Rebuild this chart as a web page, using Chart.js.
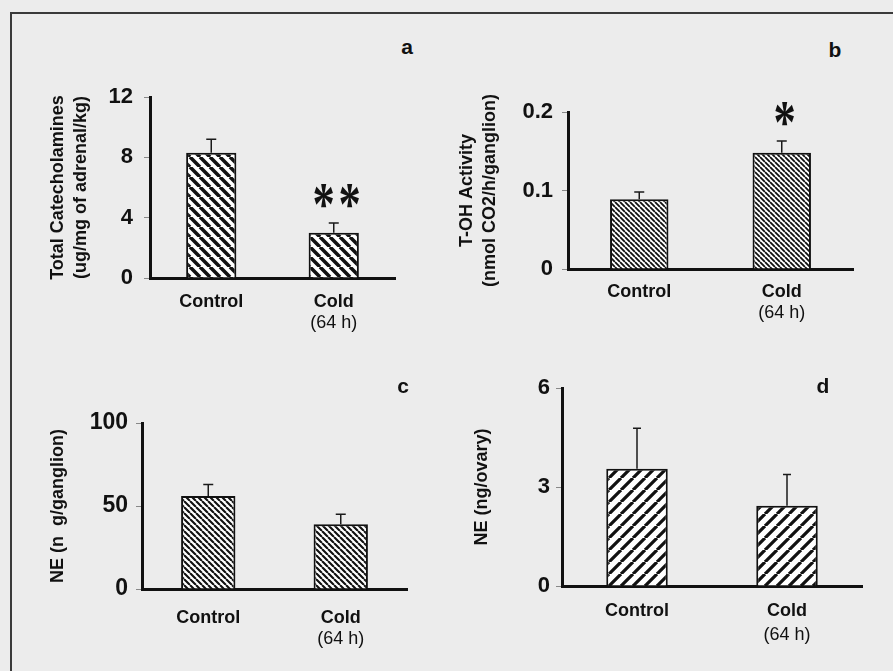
<!DOCTYPE html>
<html>
<head>
<meta charset="utf-8">
<script src="https://cdn.jsdelivr.net/npm/chart.js@4.4.1/dist/chart.umd.min.js"></script>
<style>
  html, body { margin: 0; padding: 0; background: #ececec; }
  body { width: 893px; height: 671px; position: relative; overflow: hidden; font-family: "Liberation Sans", Arial, sans-serif; }
  #frame { position: absolute; left: 10px; top: 12px; width: 900px; height: 700px; border-top: 2px solid #3a3a3a; border-left: 2px solid #3a3a3a; }
  canvas { position: absolute; }
  .letter { position: absolute; font: bold 21px "Liberation Sans", Arial, sans-serif; color: #111; transform: translate(-50%, -50%); }
</style>
</head>
<body>
<div id="frame"></div>
<canvas id="chartA"></canvas>
<canvas id="chartB"></canvas>
<canvas id="chartC"></canvas>
<canvas id="chartD"></canvas>
<div class="letter" style="left:407px;top:47px">a</div>
<div class="letter" style="left:835px;top:50px">b</div>
<div class="letter" style="left:403px;top:386px">c</div>
<div class="letter" style="left:823px;top:386px">d</div>
<script>
// groups on the x axis
const groups = ["Control", "Cold"];
const groupNotes = ["", "(64 h)"];

// a: adrenal catecholamines
const catecholamines = [8.3, 3.0];
const catecholaminesErr = [0.9, 0.65];
const catecholaminesStars = ["", "**"];
const catecholaminesTicks = [0, 4, 8, 12];

// b: tyrosine hydroxylase activity
const tohActivity = [0.089, 0.148];
const tohActivityErr = [0.009, 0.015];
const tohActivityStars = ["", "*"];
const tohActivityTicks = [0, 0.1, 0.2];

// c: NE in ganglion
const neGanglion = [56, 39];
const neGanglionErr = [7, 6];
const neGanglionTicks = [0, 50, 100];

// d: NE in ovary
const neOvary = [3.55, 2.43];
const neOvaryErr = [1.23, 0.95];
const neOvaryTicks = [0, 3, 6];

const FONT = '"Liberation Sans", Arial, sans-serif';

function hatch(ctx, size, width, dir) {
  const c = document.createElement("canvas");
  c.width = size;
  c.height = size;
  const g = c.getContext("2d");
  g.fillStyle = "#fff";
  g.fillRect(0, 0, size, size);
  g.strokeStyle = "#111";
  g.lineWidth = width;
  g.beginPath();
  for (let k = -1; k <= 1; k++) {
    if (dir === "\\") {
      g.moveTo(k * size, 0);
      g.lineTo(k * size + size, size);
    } else {
      g.moveTo(k * size, size);
      g.lineTo(k * size + size, 0);
    }
  }
  g.stroke();
  return ctx.createPattern(c, "repeat");
}

// error bars, significance stars and the two-line group labels
const extras = {
  id: "extras",
  afterDatasetsDraw(chart, args, opts) {
    const ctx = chart.ctx;
    const yScale = chart.scales.y;
    const xScale = chart.scales.x;
    const ds = chart.data.datasets[0];
    const meta = chart.getDatasetMeta(0);
    ctx.save();
    ctx.strokeStyle = "#1a1a1a";
    ctx.lineWidth = 1.5;
    meta.data.forEach((bar, i) => {
      const top = yScale.getPixelForValue(ds.data[i] + ds.errors[i]);
      ctx.beginPath();
      ctx.moveTo(bar.x, bar.y);
      ctx.lineTo(bar.x, top);
      ctx.moveTo(bar.x - opts.cap, top);
      ctx.lineTo(bar.x + opts.cap, top);
      ctx.stroke();
      const star = ds.stars ? ds.stars[i] : "";
      if (star) {
        ctx.font = 'bold 62px "Liberation Serif", serif';
        ctx.fillStyle = "#111";
        ctx.textAlign = "center";
        ctx.textBaseline = "alphabetic";
        const m = ctx.measureText("*");
        const cy = top - opts.starGap;
        const n = star.length;
        for (let k = 0; k < n; k++) {
          const sx = bar.x + 3 + (k - (n - 1) / 2) * 26;
          ctx.save();
          ctx.translate(sx, cy);
          ctx.scale(0.72, 1);
          ctx.fillText("*", 0, (m.actualBoundingBoxAscent - m.actualBoundingBoxDescent) / 2);
          ctx.restore();
        }
      }
    });
    ctx.fillStyle = "#111";
    ctx.textAlign = "center";
    ctx.textBaseline = "middle";
    const base = chart.chartArea.bottom;
    groups.forEach((g, i) => {
      const x = xScale.getPixelForValue(i);
      ctx.font = "bold 18px " + FONT;
      ctx.fillText(g, x, base + opts.labelGap);
      if (groupNotes[i]) {
        ctx.font = "18px " + FONT;
        ctx.fillText(groupNotes[i], x, base + opts.labelGap + opts.lineGap);
      }
    });
    ctx.restore();
  }
};

function makePanel(p) {
  const canvas = document.getElementById(p.id);
  const left = p.axisX - p.yWidth;
  const top = p.axisTop - 30;
  canvas.width = p.axisRight - left + 10;
  canvas.height = p.axisBottom - top + 60;
  canvas.style.left = left + "px";
  canvas.style.top = top + "px";
  const ctx = canvas.getContext("2d");
  return new Chart(ctx, {
    type: "bar",
    data: {
      labels: groups,
      datasets: [{
        data: p.values,
        errors: p.errors,
        stars: p.stars,
        backgroundColor: hatch(ctx, p.hatch[0], p.hatch[1], p.hatch[2]),
        borderColor: "#111",
        borderWidth: 2,
        borderSkipped: "bottom",
        categoryPercentage: 1,
        barPercentage: 0.41
      }]
    },
    options: {
      responsive: false,
      animation: false,
      devicePixelRatio: 1,
      layout: { padding: { top: 30, right: 10, left: 0, bottom: 0 } },
      plugins: {
        legend: { display: false },
        tooltip: { enabled: false },
        extras: { cap: p.cap, starGap: 27, labelGap: p.labelGap, lineGap: p.lineGap }
      },
      scales: {
        x: {
          grid: { display: false },
          border: { display: true, color: "#111", width: 3 },
          ticks: { display: false },
          afterFit(scale) { scale.height = 60; }
        },
        y: {
          min: 0,
          max: p.ticks[p.ticks.length - 1],
          afterBuildTicks(scale) { scale.ticks = p.ticks.map(v => ({ value: v })); },
          grid: { drawOnChartArea: false, drawTicks: true, tickLength: 6, color: "#888", lineWidth: 1 },
          border: { display: true, color: "#111", width: 3 },
          ticks: {
            color: "#111",
            padding: p.tickPad,
            font: { family: FONT, size: p.tickSize, weight: "bold" }
          },
          title: {
            display: true,
            text: p.title,
            color: "#111",
            font: { family: FONT, size: 18, weight: "bold", lineHeight: 1.3 },
            padding: { top: p.titleX - left - 11.7, bottom: 0 }
          },
          afterFit(scale) { scale.width = p.yWidth; }
        }
      }
    },
    plugins: [extras]
  });
}

makePanel({
  id: "chartA", values: catecholamines, errors: catecholaminesErr, stars: catecholaminesStars,
  ticks: catecholaminesTicks, title: ["Total Catecholamines", "(ug/mg of adrenal/kg)"],
  axisX: 150, axisTop: 97, axisBottom: 278, axisRight: 395, yWidth: 110, titleX: 58,
  tickPad: 11, tickSize: 22, hatch: [10, 3.6, "\\"], cap: 5, labelGap: 24, lineGap: 21
});
makePanel({
  id: "chartB", values: tohActivity, errors: tohActivityErr, stars: tohActivityStars,
  ticks: tohActivityTicks, title: ["T-OH Activity", "(nmol CO2/h/ganglion)"],
  axisX: 568, axisTop: 112, axisBottom: 269, axisRight: 853, yWidth: 118, titleX: 467,
  tickPad: 9, tickSize: 22, hatch: [5, 1.8, "\\"], cap: 5, labelGap: 23, lineGap: 21
});
makePanel({
  id: "chartC", values: neGanglion, errors: neGanglionErr, stars: null,
  ticks: neGanglionTicks, title: "NE (n  g/ganglion)",
  axisX: 142, axisTop: 423, axisBottom: 589, axisRight: 407, yWidth: 102, titleX: 58,
  tickPad: 8, tickSize: 23, hatch: [6, 2.1, "\\"], cap: 5, labelGap: 29, lineGap: 21
});
makePanel({
  id: "chartD", values: neOvary, errors: neOvaryErr, stars: null,
  ticks: neOvaryTicks, title: "NE (ng/ovary)",
  axisX: 562, axisTop: 388, axisBottom: 586, axisRight: 862, yWidth: 97, titleX: 482,
  tickPad: 6, tickSize: 22, hatch: [12, 3.2, "/"], cap: 4, labelGap: 25, lineGap: 24
});
</script>
</body>
</html>
